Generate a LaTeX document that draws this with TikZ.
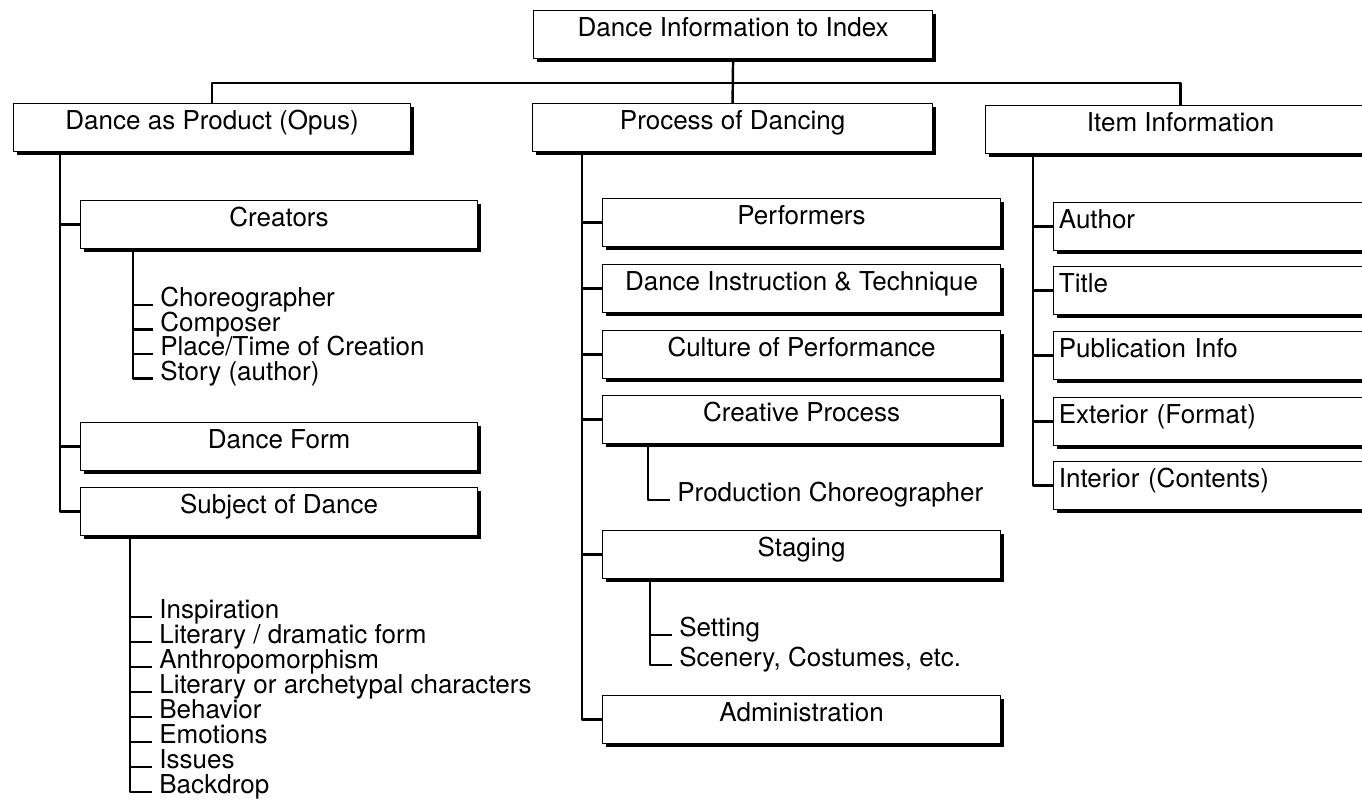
\documentclass[tikz,border=0pt]{standalone}
\usepackage{fontspec}
\setmainfont{TeX Gyre Heros}
\usetikzlibrary{shadows}

\begin{document}
\begin{tikzpicture}[x=0.02cm,y=-0.02cm,line join=round,font=\fontsize{14.8}{17}\selectfont,
	box/.style={draw,line width=0.7pt,fill=white,anchor=north west,inner xsep=3pt,inner ysep=0pt,
		text height=15pt,text depth=12.2pt,minimum width=7.94cm,
		drop shadow={shadow xshift=1.8pt,shadow yshift=-1.8pt,fill=black,opacity=1}},
	itembox/.style={box,minimum width=0pt,text width=6.5cm,align=left},
	leaf/.style={anchor=west,inner xsep=4pt,inner ysep=0pt,text height=2pt,text depth=0pt},
	link/.style={line width=1.4pt}]
	\useasboundingbox (0,0) rectangle (1362,799);
	\clip (0,0) rectangle (1362,799);
	% top and first row
	\node[box,minimum width=7.98cm] (top) at (533,10) {Dance Information to Index};
	\node[box] (prod) at (13,103) {Dance as Product (Opus)};
	\node[box,minimum width=8cm] (proc) at (532,103) {Process of Dancing};
	\node[box,minimum width=7.8cm] (item) at (985,105) {Item Information};
	\draw[link] (top.south) -- (proc.north);
	\draw[link] (top.south) ++(0,24) coordinate (hub) -| (prod.north);
	\draw[link] (hub) -| (item.north);
	% Dance as Product
	\node[box] (creat) at (80,200) {Creators};
	\node[box] (form) at (80,422) {Dance Form};
	\node[box] (subj) at (80,487) {Subject of Dance};
	\path (prod.south west) ++(47,0) coordinate (pT);
	\draw[link] (pT) |- (subj.west);
	\foreach \n in {creat,form} \draw[link] (pT |- \n.west) -- (\n.west);
	\node[leaf] (chor) at (153,305) {Choreographer};
	\node[leaf] (comp) at (153,329.5) {Composer};
	\node[leaf] (place) at (153,354) {Place/Time of Creation};
	\node[leaf] (story) at (153,378.5) {Story (author)};
	\path (creat.south west) ++(53,0) coordinate (cT);
	\draw[link] (cT) |- (story.west);
	\foreach \n in {chor,comp,place} \draw[link] (cT |- \n.west) -- (\n.west);
	\node[leaf] (insp) at (152,617) {Inspiration};
	\node[leaf] (litd) at (152,642) {Literary / dramatic form};
	\node[leaf] (anth) at (152,667) {Anthropomorphism};
	\node[leaf] (lita) at (152,692) {Literary or archetypal characters};
	\node[leaf] (behav) at (152,717) {Behavior};
	\node[leaf] (emot) at (152,742) {Emotions};
	\node[leaf] (issue) at (152,767) {Issues};
	\node[leaf] (back) at (152,792) {Backdrop};
	\path (subj.south west) ++(50,0) coordinate (sT);
	\draw[link] (sT) |- (back.west);
	\foreach \n in {insp,litd,anth,lita,behav,emot,issue} \draw[link] (sT |- \n.west) -- (\n.west);
	% Process of Dancing
	\node[box,minimum width=7.96cm] (perf) at (602,198) {Performers};
	\node[box,minimum width=7.96cm] (instr) at (602,264) {Dance Instruction \& Technique};
	\node[box,minimum width=7.96cm] (cult) at (602,330) {Culture of Performance};
	\node[box,minimum width=7.96cm] (creap) at (602,395) {Creative Process};
	\node[box,minimum width=7.96cm] (stag) at (602,530) {Staging};
	\node[box,minimum width=7.96cm] (admin) at (602,695) {Administration};
	\path (proc.south west) ++(50,0) coordinate (rT);
	\draw[link] (rT) |- (admin.west);
	\foreach \n in {perf,instr,cult,creap,stag} \draw[link] (rT |- \n.west) -- (\n.west);
	\node[leaf] (prch) at (670,500) {Production Choreographer};
	\path (creap.south west) ++(46,0) coordinate (cpT);
	\draw[link] (cpT) |- (prch.west);
	\node[leaf] (sett) at (672,635) {Setting};
	\node[leaf] (scen) at (672,665) {Scenery, Costumes, etc.};
	\path (stag.south west) ++(48,0) coordinate (stT);
	\draw[link] (stT) |- (scen.west);
	\draw[link] (stT |- sett.west) -- (sett.west);
	% Item Information
	\node[itembox] (auth) at (1053,202) {Author};
	\node[itembox] (titl) at (1053,266) {Title};
	\node[itembox] (publ) at (1053,331) {Publication Info};
	\node[itembox] (exter) at (1053,397) {Exterior (Format)};
	\node[itembox] (inter) at (1053,461) {Interior (Contents)};
	\path (item.south west) ++(48,0) coordinate (iT);
	\draw[link] (iT) |- (inter.west);
	\foreach \n in {auth,titl,publ,exter} \draw[link] (iT |- \n.west) -- (\n.west);
\end{tikzpicture}
\end{document}
